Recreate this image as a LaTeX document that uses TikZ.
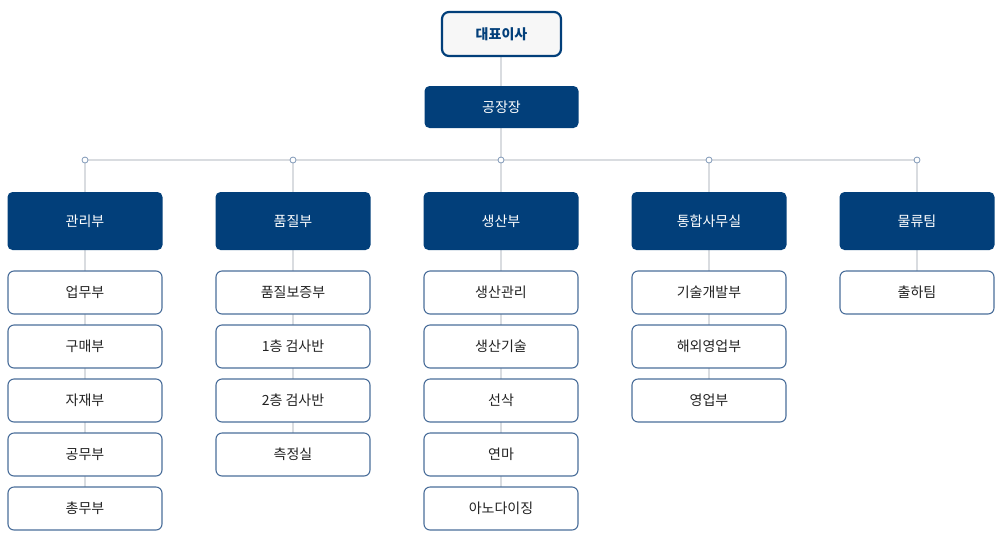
\documentclass[tikz,border=0pt]{standalone}
\usepackage{fontspec}
\setmainfont{Noto Sans CJK KR}
\definecolor{navy}{HTML}{023F7A}
\definecolor{lnc}{HTML}{D9DCE0}
\definecolor{sbd}{HTML}{4A6E9A}
\definecolor{txt}{HTML}{222222}
\begin{document}
\begin{tikzpicture}[x=1pt,y=-1pt,
 top/.style={draw=navy,line width=2.2pt,fill={rgb,255:red,247;green,247;blue,247},rounded corners=7pt,minimum width=119pt,minimum height=44pt,font=\fontsize{14}{16}\selectfont\bfseries,text=navy},
 mgr/.style={fill=navy,rounded corners=5pt,minimum width=154pt,minimum height=42pt,font=\fontsize{14}{16}\selectfont,text=white},
 dept/.style={fill=navy,rounded corners=5pt,minimum width=155pt,minimum height=58pt,font=\fontsize{14}{16}\selectfont,text=white},
 sub/.style={draw=sbd,line width=1.1pt,fill=white,rounded corners=6pt,minimum width=154pt,minimum height=43pt,font=\fontsize{14}{16}\selectfont,text=txt},
 ln/.style={draw=lnc,line width=1.3pt},
 dot/.style={circle,draw=sbd!70,fill=white,line width=0.8pt,inner sep=0pt,minimum size=6pt}]
\useasboundingbox (0,0) rectangle (1001,550);
\coordinate (hl) at (85,160); \coordinate (hr) at (917,160);
\draw[ln] (hl) -- (hr);
\draw[ln] (501,34) -- (501,160);
\foreach \x/\n in {85/1,293/2,501/3,709/4,917/5}{\coordinate (c\n) at (\x,160);}
\draw[ln] (85,160) -- (85,508);
\draw[ln] (293,160) -- (293,454);
\draw[ln] (501,160) -- (501,508);
\draw[ln] (709,160) -- (709,400);
\draw[ln] (917,160) -- (917,292);
\node[top] (ceo) at (501.5,34) {대표이사};
\node[mgr] (fm) at (501.5,107) {공장장};
\foreach \n in {1,...,5}{\node[dot] (d\n) at (c\n) {};}
\node[dept] (a) at (85,221) {관리부};
\node[dept] (b) at (293,221) {품질부};
\node[dept] (c) at (501,221) {생산부};
\node[dept] (d) at (709,221) {통합사무실};
\node[dept] (e) at (917,221) {물류팀};
\foreach \t [count=\i] in {업무부,구매부,자재부,공무부,총무부}{\node[sub] (a\i) at (85,{292.5+54*(\i-1)}) {\t};}
\foreach \t [count=\i] in {품질보증부,1층 검사반,2층 검사반,측정실}{\node[sub] (b\i) at (293,{292.5+54*(\i-1)}) {\t};}
\foreach \t [count=\i] in {생산관리,생산기술,선삭,연마,아노다이징}{\node[sub] (c\i) at (501,{292.5+54*(\i-1)}) {\t};}
\foreach \t [count=\i] in {기술개발부,해외영업부,영업부}{\node[sub] (d\i) at (709,{292.5+54*(\i-1)}) {\t};}
\node[sub] (e1) at (917,292.5) {출하팀};
\end{tikzpicture}
\end{document}
